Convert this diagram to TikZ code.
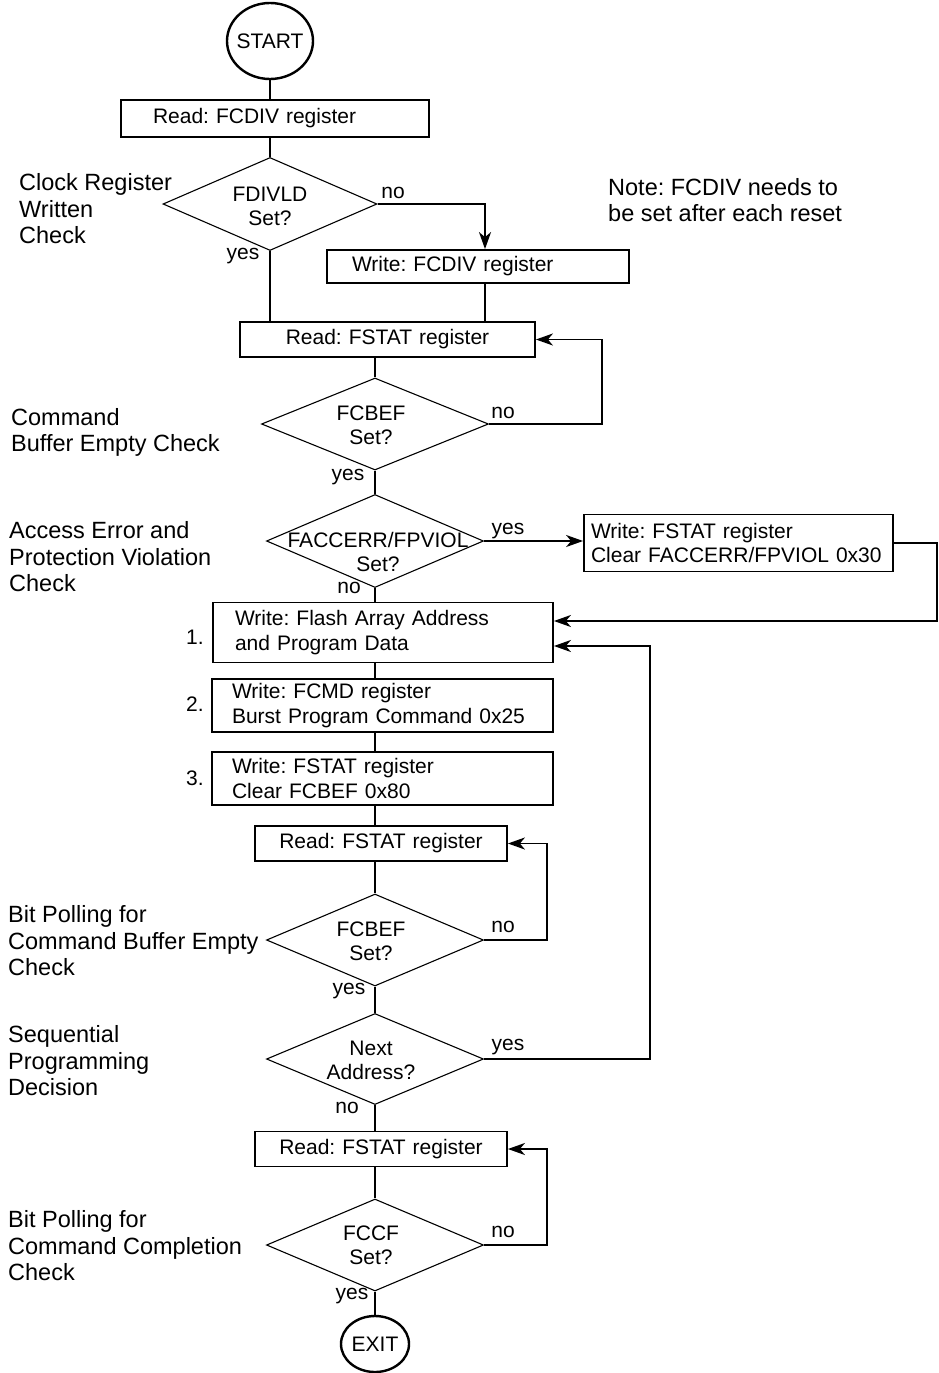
\documentclass[tikz,border=0pt]{standalone}
\usepackage{fontspec}
\setmainfont{Liberation Sans}
\usetikzlibrary{shapes.geometric,arrows.meta}
\begin{document}
\begin{tikzpicture}[x=1pt,y=-1pt,
  box/.style={draw, line width=1.8pt, rectangle, inner ysep=0pt, align=left, font=\fontsize{21}{25.5}\selectfont\frenchspacing},
  cbox/.style={draw, line width=1.8pt, rectangle, inner ysep=0pt, inner xsep=5pt, align=center, font=\fontsize{21}{25.5}\selectfont\frenchspacing},
  dia/.style={draw, line width=1.1pt, diamond, inner sep=0pt},
  dtext/.style={align=center, inner sep=0pt, font=\fontsize{21}{24}\selectfont},
  lbl/.style={anchor=west, align=left, inner sep=0pt, font=\fontsize{23.5}{26.5}\selectfont\frenchspacing},
  yn/.style={inner sep=0pt, font=\fontsize{21}{24}\selectfont},
  term/.style={draw, ellipse, line width=2.4pt, inner sep=0pt, font=\fontsize{21}{24}\selectfont},
  con/.style={line width=1.9pt},
  arr/.style={con, -{Stealth[length=17pt,width=12pt,inset=5pt]}}
]
\fill[white] (0,0) rectangle (938,1373);
\useasboundingbox (0,0) rectangle (938,1373);

% terminals
\node[term, minimum width=86pt, minimum height=76pt] (start) at (270,41) {\makebox[0pt]{START}};
\node[term, minimum width=68pt, minimum height=56pt] (exit) at (375,1344) {\makebox[0pt]{EXIT}};

% boxes
\node[box, minimum height=37pt, text width=244pt, inner xsep=32pt] (b1) at (275,118.5) {Read: FCDIV register};
\node[box, minimum height=33pt, text width=252pt, inner xsep=25pt] (b2) at (478,266.5) {Write: FCDIV register};
\node[cbox, minimum height=35pt, text width=285pt] (b3) at (387.5,339.5) {Read: FSTAT register};
\node[box, minimum height=57pt, text width=295pt, inner xsep=7pt, font=\fontsize{21}{24.5}\selectfont\frenchspacing] (b4) at (738.5,543) {Write: FSTAT register\\Clear FACCERR/FPVIOL 0x30};
\node[box, minimum height=60pt, text width=296pt, inner xsep=22pt] (b5) at (383,632.5) {Write: Flash Array Address\\and Program Data};
\node[box, minimum height=53pt, text width=301pt, inner xsep=20pt] (b6) at (382.5,705.5) {Write: FCMD register\\Burst Program Command 0x25};
\node[box, minimum height=53pt, text width=301pt, inner xsep=20pt] (b7) at (382.5,778.5) {Write: FSTAT register\\Clear FCBEF 0x80};
\node[cbox, minimum height=35pt, text width=242pt] (b8) at (381,843.5) {Read: FSTAT register};
\node[cbox, minimum height=35pt, text width=242pt] (b9) at (381,1149) {Read: FSTAT register};

% diamonds
\node[dia, minimum width=214pt, minimum height=93pt] (d1) at (270,204) {};
\node[dia, minimum width=227pt, minimum height=92pt] (d2) at (375,424) {};
\node[dia, minimum width=217pt, minimum height=93pt] (d3) at (375,541) {};
\node[dia, minimum width=217pt, minimum height=92pt] (d4) at (375,940) {};
\node[dia, minimum width=217pt, minimum height=91pt] (d5) at (375,1059) {};
\node[dia, minimum width=217pt, minimum height=92pt] (d6) at (375,1245) {};

\node[dtext] (d1t) at (270,206.5) {FDIVLD\\Set?};
\node[dtext] (d2t) at (371,425) {FCBEF\\Set?};
\node[dtext] (d3t) at (378,551.5) {FACCERR/FPVIOL\\Set?};
\node[dtext] (d4t) at (371,941) {FCBEF\\Set?};
\node[dtext] (d5t) at (371,1060) {Next\\Address?};
\node[dtext] (d6t) at (371,1245.5) {FCCF\\Set?};

% side labels
\node[lbl] (l1) at (19,209) {Clock Register\\Written\\Check};
\node[lbl] (l2) at (11,432.5) {Command\\Buffer Empty Check};
\node[lbl] (l3) at (9,557) {Access Error and\\Protection Violation\\Check};
\node[lbl] (l4) at (8,941) {Bit Polling for\\Command Buffer Empty\\Check};
\node[lbl] (l5) at (8,1061) {Sequential\\Programming\\Decision};
\node[lbl] (l6) at (8,1246) {Bit Polling for\\Command Completion\\Check};
\node[lbl] (note) at (608,200) {Note: FCDIV needs to\\be set after each reset};

\node[yn] (n1) at (195,637) {1.};
\node[yn] (n2) at (195,704) {2.};
\node[yn] (n3) at (195,778) {3.};

% yes / no
\node[yn] (y1) at (393,193) {no};
\node[yn] (y2) at (243,256) {yes};
\node[yn] (y3) at (503,413) {no};
\node[yn] (y4) at (348,477) {yes};
\node[yn] (y5) at (508,531) {yes};
\node[yn] (y6) at (349,588) {no};
\node[yn] (y7) at (503,927) {no};
\node[yn] (y8) at (349,991) {yes};
\node[yn] (y9) at (508,1047) {yes};
\node[yn] (y10) at (347,1108) {no};
\node[yn] (y11) at (503,1232) {no};
\node[yn] (y12) at (352,1296) {yes};

% helper coordinates
\coordinate (c1) at (485,204);
\coordinate (c2) at (602,424);
\coordinate (c3) at (937,543);
\coordinate (c4) at (937,621);
\coordinate (c5) at (547,940);
\coordinate (c6) at (650,1059);
\coordinate (c7) at (650,646);
\coordinate (c8) at (547,1245);

% connectors
\draw[con] (start.south) -- (start.south |- b1.north);
\draw[con] (b1.south -| d1.north) -- (d1.north);
\draw[arr] (d1.east) -- (c1) -- (c1 |- b2.north);
\draw[con] (c1 |- b2.south) -- (c1 |- b3.north);
\draw[con] (d1.south) -- (d1.south |- b3.north);
\draw[con] (b3.south -| d2.north) -- (d2.north);
\draw[arr] (d2.east) -- (c2) -- (c2 |- b3.east) -- (b3.east);
\draw[con] (d2.south) -- (d3.north);
\draw[arr] (d3.east) -- (d3.east -| b4.west);
\draw[arr] (b4.east) -- (c3) -- (c4) -- (c4 -| b5.east);
\draw[con] (d3.south) -- (d3.south |- b5.north);
\draw[con] (b5.south -| d3.south) -- (b6.north -| d3.south);
\draw[con] (b6.south -| d3.south) -- (b7.north -| d3.south);
\draw[con] (b7.south -| d3.south) -- (b8.north -| d3.south);
\draw[con] (b8.south -| d4.north) -- (d4.north);
\draw[arr] (d4.east) -- (c5) -- (c5 |- b8.east) -- (b8.east);
\draw[con] (d4.south) -- (d5.north);
\draw[arr] (d5.east) -- (c6) -- (c7) -- (c7 -| b5.east);
\draw[con] (d5.south) -- (d5.south |- b9.north);
\draw[con] (b9.south -| d6.north) -- (d6.north);
\draw[arr] (d6.east) -- (c8) -- (c8 |- b9.east) -- (b9.east);
\draw[con] (d6.south) -- (exit.north);
\end{tikzpicture}
\end{document}
